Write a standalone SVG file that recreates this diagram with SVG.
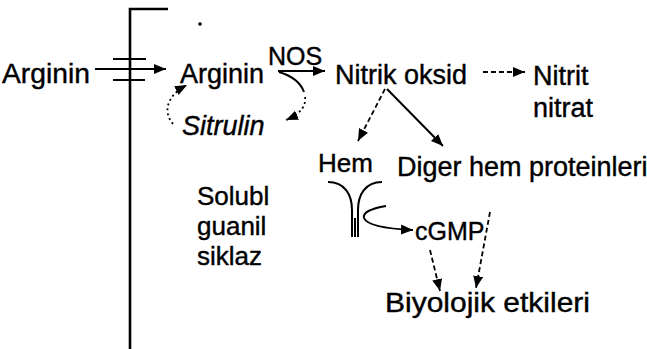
<svg xmlns="http://www.w3.org/2000/svg" width="647" height="349" viewBox="0 0 647 349">
<style>
text{font-family:"Liberation Sans",Arial,sans-serif;font-size:27px;fill:#000;stroke:#000;stroke-width:0.4}
.ln{fill:none;stroke:#000;stroke-width:2}
.dot{fill:none;stroke:#000;stroke-width:1.8;stroke-dasharray:2,3}
.dsh{fill:none;stroke:#000;stroke-width:1.8;stroke-dasharray:5,3}
.mem{fill:none;stroke:#000;stroke-width:2.6}
</style>
<defs>
<marker id="ah" markerUnits="userSpaceOnUse" markerWidth="14" markerHeight="12" refX="12" refY="5" orient="auto">
<path d="M0,0 L12,5 L0,10 z" fill="#000"/>
</marker>
</defs>
<rect width="647" height="349" fill="#fff"/>
<g id="membrane">
<path class="mem" d="M168,9 H130 V349"/>
<circle cx="200" cy="24" r="1.8" fill="#000"/>
</g>
<g id="arginin-out"><text x="2" y="83" textLength="88" lengthAdjust="spacingAndGlyphs">Arginin</text></g>
<g id="arginin-in"><text x="180" y="83">Arginin</text></g>
<g id="nos"><text x="268" y="65" style="font-size:25px">NOS</text></g>
<g id="sitrulin"><text x="182" y="135" font-style="italic">Sitrulin</text></g>
<g id="nitrik-oksid"><text x="335" y="84">Nitrik oksid</text></g>
<g id="nitrit-nitrat"><text x="533" y="85">Nitrit</text><text x="533" y="117">nitrat</text></g>
<g id="hem"><text x="318" y="172" style="font-size:26px">Hem</text></g>
<g id="diger"><text x="397" y="176">Diger hem proteinleri</text></g>
<g id="sgc"><text x="197" y="205" style="font-size:26px">Solubl</text><text x="197" y="235" style="font-size:26px">guanil</text><text x="197" y="265" style="font-size:26px">siklaz</text></g>
<g id="cgmp"><text x="415" y="240" style="font-size:25px">cGMP</text></g>
<g id="biyolojik"><text x="385" y="312" style="font-size:28px" textLength="205" lengthAdjust="spacingAndGlyphs">Biyolojik etkileri</text></g>
<g id="receptor">
<path class="ln" d="M328,182 C345,182 352,195 352,210 V237"/>
<path class="ln" d="M382,182 C365,182 358,195 358,210 V237"/>
<path class="ln" stroke-width="1.5" d="M355,218 V237"/>
</g>
<g id="connectors">
<path class="ln" d="M95,69 L166,69" marker-end="url(#ah)"/>
<path class="ln" d="M113,59 H146 M113,80 H145"/>
<path class="ln" d="M278,71 L325,71" marker-end="url(#ah)"/>
<path class="ln" d="M279,72 Q299,78 304,92"/>
<path class="dot" d="M305,97 Q307,111 286,120" marker-end="url(#ah)"/>
<path class="dot" d="M173,124 C163,112 166,96 187,85" marker-end="url(#ah)"/>
<path class="dsh" d="M483,72 L525,72" marker-end="url(#ah)"/>
<path class="dsh" d="M385,89 L358,141" marker-end="url(#ah)"/>
<path class="ln" d="M387,89 L443,146" marker-end="url(#ah)"/>
<path class="ln" d="M386,206 Q362,210 364,218 Q368,228 413,230" marker-end="url(#ah)"/>
<path class="dsh" d="M430,250 L440,291" marker-end="url(#ah)"/>
<path class="dsh" d="M490,212 L476,288" marker-end="url(#ah)"/>
</g>
</svg>
